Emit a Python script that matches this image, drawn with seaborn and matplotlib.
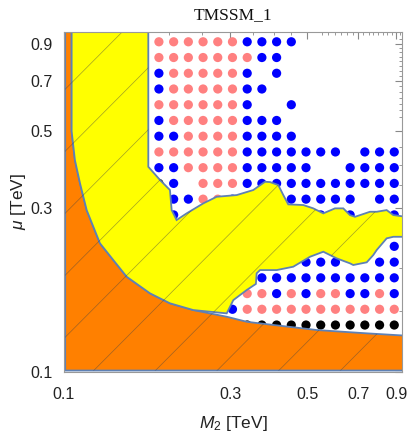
import numpy as np
import pandas as pd
import seaborn as sns
import matplotlib.pyplot as plt
from matplotlib.ticker import NullFormatter

# scan grid (TeV)
m2_vals = [0.170, 0.1874, 0.2066, 0.2277, 0.2510, 0.2766, 0.3049, 0.3361, 0.3704,
           0.4083, 0.4500, 0.4960, 0.5467, 0.6026, 0.6642, 0.7320, 0.8069, 0.8893]
mu_vals = [0.9105, 0.8195, 0.7375, 0.6638, 0.5974, 0.5377, 0.4839, 0.4355, 0.3920,
           0.3528, 0.3175, 0.2857, 0.2572, 0.2315, 0.2083, 0.1875, 0.1687, 0.1519, 0.1367]

# one string per mu row (top to bottom), one char per M2 column
# p = pink, b = blue, k = black, . = no point
point_rows = [
    "pppppppbbbb.......",
    "kpppppppbb........",
    "pbpppppb.b........",
    "pbpppppbb.........",
    "kppppppb..b.......",
    "kbpppppbbb........",
    "kbbppppbbbb.......",
    "kppppppbbbbbbb.bbb",
    "kbbppppbbbbb..bbbb",
    ".kb.pppbbbbbbbbbbb",
    "..bbppb...bbbbb.bb",
    "..b.........b.b..b",
    "..................",
    ".................b",
    "...........bbb..bb",
    "........bbbbbbbbbb",
    ".......ppbpbppbbpb",
    "......bppppppppppp",
    ".......kkkkkkkkkkk",
]
colors = {"p": "#FF8080", "b": "#0000FF", "k": "#000000"}

# upper edge of the orange region (left to right)
orange_x = [0.1052, 0.1052, 0.1075, 0.1112, 0.1162, 0.1269, 0.1386, 0.1514, 0.1767,
            0.2016, 0.2353, 0.2935, 0.3350, 0.3659, 0.5323, 0.7412, 0.96]
orange_y = [1.0, 0.50, 0.4125, 0.3529, 0.2951, 0.2362, 0.2112, 0.1889, 0.1690,
            0.1581, 0.1511, 0.1445, 0.1397, 0.1382, 0.1322, 0.1293, 0.1273]

# upper edge of the yellow band (left to right)
ytop_x = [0.1747, 0.1747, 0.1888, 0.2016, 0.2039, 0.2107, 0.2252, 0.2514, 0.2746,
          0.3135, 0.3499, 0.3781, 0.3908, 0.4129, 0.4268, 0.4411, 0.4872, 0.5205,
          0.5561, 0.6007, 0.6347, 0.6634, 0.6858, 0.7573, 0.7918, 0.8457, 0.8838, 0.96]
ytop_y = [1.0, 0.3944, 0.3609, 0.3375, 0.2951, 0.2761, 0.2887, 0.3087, 0.3226,
          0.3263, 0.3375, 0.3567, 0.3560, 0.3489, 0.3263, 0.3066, 0.3052, 0.2985,
          0.2887, 0.2985, 0.2985, 0.2854, 0.2821, 0.2918, 0.2918, 0.2951, 0.2854, 0.2821]

# lower edge of the yellow band (right to left)
ylow_x = [0.96, 0.8838, 0.8457, 0.7918, 0.7741, 0.7412, 0.6780, 0.6634, 0.6075,
          0.5561, 0.5093, 0.4559, 0.4085, 0.3659, 0.3578, 0.3560, 0.3350, 0.3066, 0.2935]
ylow_y = [0.2468, 0.2468, 0.2442, 0.2259, 0.2184, 0.2080, 0.2043, 0.2066, 0.2136,
          0.2233, 0.2159, 0.2020, 0.1975, 0.1975, 0.1932, 0.1800, 0.1728, 0.1615, 0.1478]

recs = []
for mu, row in zip(mu_vals, point_rows):
    for m2, c in zip(m2_vals, row):
        if c != ".":
            recs.append([m2, mu, c])
df = pd.DataFrame(recs, columns=["M2", "mu", "cls"])

sns.set_theme(style="white")
plt.rcParams["font.family"] = ["Liberation Sans", "DejaVu Sans"]
plt.rcParams["mathtext.fontset"] = "custom"
plt.rcParams["mathtext.rm"] = "Liberation Sans"
plt.rcParams["mathtext.it"] = "Liberation Sans:italic"

fig = plt.figure(figsize=(4.07, 4.34), dpi=100)
ax = fig.add_axes([0.1572, 0.1435, 0.8305, 0.7827])
ax.set_xscale("log")
ax.set_yscale("log")

sns.scatterplot(data=df, x="M2", y="mu", hue="cls", palette=colors, s=44,
                linewidth=0, legend=False, ax=ax, zorder=1)

edge = "#5E81B5"
ox = [0.1008] + orange_x + [0.96, 0.1008]
oy = [1.0] + orange_y + [0.1008, 0.1008]
orange_patch = ax.fill(ox, oy, facecolor="#FF8000", edgecolor=edge, lw=1.3, zorder=2)[0]

back_x = [x for x in orange_x[::-1] if x < 0.29]
back_y = [y for x, y in zip(orange_x[::-1], orange_y[::-1]) if x < 0.29]
yx = ytop_x + ylow_x + back_x
yy = ytop_y + ylow_y + back_y
yellow_patch = ax.fill(yx, yy, facecolor="#FFFF00", edgecolor=edge, lw=1.3, zorder=2)[0]

# diagonal hatch lines inside both regions
for patch in [orange_patch, yellow_patch]:
    for b in np.arange(-0.997, 1.0, 0.1825):
        ln, = ax.plot([0, 1], [b, 1 + b], transform=ax.transAxes, color="#444444",
                      lw=0.5, alpha=0.5, zorder=2.5)
        ln.set_clip_path(patch)

ax.set_xlim(0.1, 0.936)
ax.set_ylim(0.1, 0.972)

major = [0.1, 0.3, 0.5, 0.7, 0.9]
labels = ["0.1", "0.3", "0.5", "0.7", "0.9"]
minor = [0.125, 0.15, 0.2, 0.25, 0.35, 0.4, 0.45, 0.55, 0.6, 0.65, 0.75, 0.8, 0.85,
         0.725, 0.775, 0.825, 0.875, 0.925, 0.575, 0.625, 0.675]
ax.set_xticks(major, labels)
ax.set_yticks(major, labels)
ax.set_xticks(minor, minor=True)
ax.set_yticks(minor, minor=True)
ax.xaxis.set_minor_formatter(NullFormatter())
ax.yaxis.set_minor_formatter(NullFormatter())
ax.tick_params(which="both", direction="in", top=True, right=True, color="#888888",
               labelsize=11.5, labelcolor="#222222")
ax.tick_params(which="major", length=5, width=0.8)
ax.tick_params(axis="x", which="major", pad=11)
ax.tick_params(axis="y", which="major", pad=8)
ax.tick_params(which="minor", length=2.5, width=0.6)
for sp in ax.spines.values():
    sp.set_color("#999999")
    sp.set_linewidth(0.8)

ax.set_xlabel(r"$M_2$ [TeV]", fontsize=12.5, color="#222222", labelpad=9)
ax.set_ylabel(r"$\mu$ [TeV]", fontsize=12.5, color="#222222", labelpad=2)
ax.set_title("TMSSM_1", fontsize=12.5, family="Liberation Serif", color="#111111", pad=9)

fig.savefig("out.png", dpi=100)
